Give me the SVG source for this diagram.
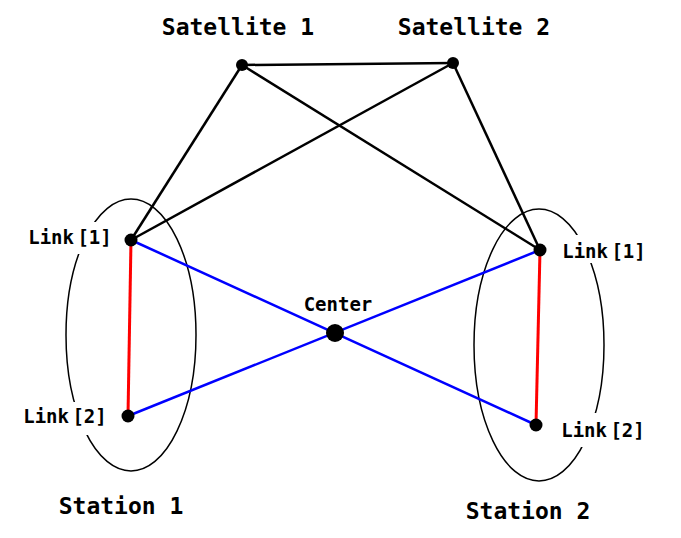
<svg xmlns="http://www.w3.org/2000/svg" width="681" height="538" viewBox="0 0 681 538">
<style>
.title{font-family:"DejaVu Sans Mono","Liberation Mono",monospace;font-weight:bold;font-size:23px;fill:#000;text-anchor:middle}
.lbl{font-family:"DejaVu Sans Mono","Liberation Mono",monospace;font-weight:bold;font-size:19px;fill:#000;text-anchor:middle;word-spacing:-8px}
.ell{fill:none;stroke:#000;stroke-width:1.5}
.blk{stroke:#000;stroke-width:2.5;fill:none}
.blu{stroke:#0000ff;stroke-width:2.5;fill:none}
.red{stroke:#ff0000;stroke-width:3;fill:none}
.dot{fill:#000}
.bg{fill:#fff}
</style>
<rect width="681" height="538" fill="#fff"/>
<g id="station1">
<ellipse class="ell" cx="131" cy="335" rx="65" ry="136"/>
<text class="title" x="121" y="514">Station 1</text>
</g>
<g id="station2">
<ellipse class="ell" cx="539" cy="345" rx="65" ry="136"/>
<text class="title" x="528" y="519">Station 2</text>
</g>
<g id="connectors">
<line class="blk" x1="242" y1="65" x2="453" y2="63"/>
<line class="blk" x1="242" y1="65" x2="131" y2="240"/>
<line class="blk" x1="242" y1="65" x2="540" y2="250"/>
<line class="blk" x1="453" y1="63" x2="131" y2="240"/>
<line class="blk" x1="453" y1="63" x2="540" y2="250"/>
<line class="red" x1="131" y1="240" x2="128" y2="416"/>
<line class="red" x1="540" y1="250" x2="536" y2="425"/>
<line class="blu" x1="131" y1="240" x2="536" y2="425"/>
<line class="blu" x1="128" y1="416" x2="540" y2="250"/>
</g>
<g id="sat1">
<circle class="dot" cx="242" cy="65" r="6"/>
<text class="title" x="238" y="35">Satellite 1</text>
</g>
<g id="sat2">
<circle class="dot" cx="453" cy="63" r="6"/>
<text class="title" x="474" y="35">Satellite 2</text>
</g>
<g id="s1-link1">
<rect class="bg" x="26" y="222" width="90" height="32"/>
<circle class="dot" cx="131" cy="240" r="6.5"/>
<text class="lbl" x="70" y="244">Link [1]</text>
</g>
<g id="s1-link2">
<rect class="bg" x="22" y="402" width="88" height="33"/>
<circle class="dot" cx="128" cy="416" r="6.5"/>
<text class="lbl" x="65" y="423">Link [2]</text>
</g>
<g id="s2-link1">
<rect class="bg" x="560" y="235" width="90" height="28"/>
<circle class="dot" cx="540" cy="250" r="6.5"/>
<text class="lbl" x="604" y="258">Link [1]</text>
</g>
<g id="s2-link2">
<rect class="bg" x="560" y="413" width="90" height="34"/>
<circle class="dot" cx="536" cy="425" r="6.5"/>
<text class="lbl" x="603" y="437">Link [2]</text>
</g>
<g id="center">
<circle class="dot" cx="335" cy="333" r="9"/>
<text class="lbl" x="338" y="311">Center</text>
</g>
</svg>
